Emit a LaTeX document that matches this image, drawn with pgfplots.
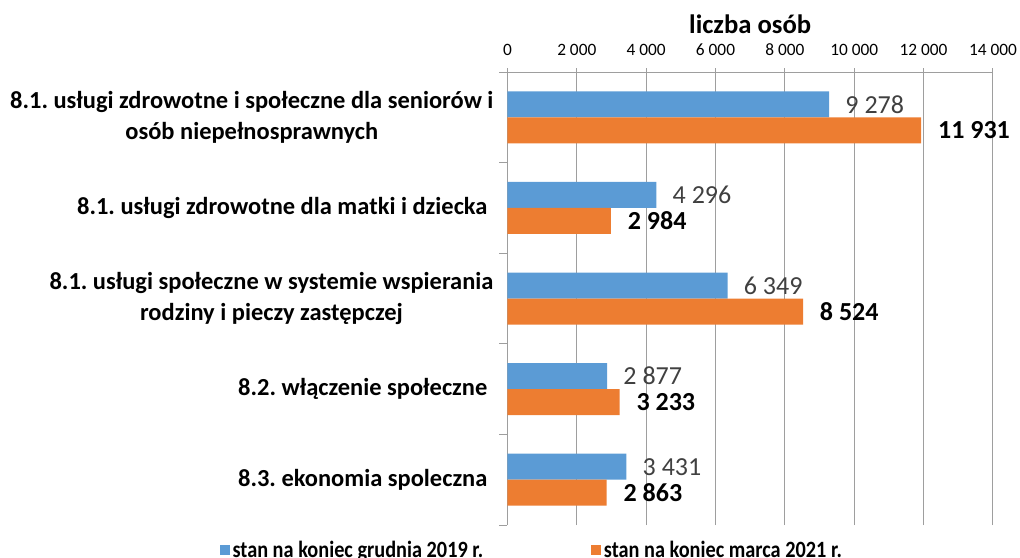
\documentclass[border=0pt]{standalone}
\usepackage{fontspec}
\setmainfont{Carlito}
\newfontfamily\legendfont[FakeStretch=0.87]{Carlito}
\usepackage{pgfplots}
\pgfplotsset{compat=1.18}
\definecolor{cblue}{HTML}{5B9BD5}
\definecolor{corange}{HTML}{ED7D31}
\definecolor{cgrid}{HTML}{9E9E9E}
\definecolor{clabel}{HTML}{404040}
\frenchspacing
\begin{document}
\begin{tikzpicture}
\path[use as bounding box] (0pt,0pt) rectangle (765pt,417.75pt);
\begin{axis}[
  at={(380.6pt,24pt)}, anchor=south west,
  scale only axis, width=364.1pt, height=339.75pt,
  xbar, bar width=0.287,
  xmin=0, xmax=14000, ymin=-0.5, ymax=4.5,
  axis x line=top, axis y line=left,
  axis line style={-, cgrid, line width=0.75pt},
  tick align=outside,
  major tick length=3pt, minor tick length=6pt,
  tick style={cgrid, line width=0.75pt},
  every major y tick/.append style={draw=none},
  xtick={0,2000,...,14000},
  scaled x ticks=false,
  ytick={0,1,2,3,4},
  minor ytick={-0.5,0.5,1.5,2.5,3.5,4.5},
  xmajorgrids, major grid style={cgrid, line width=0.75pt},
  /pgf/number format/.cd, fixed, precision=0, 1000 sep={\ }, assume math mode=true, /pgfplots/.cd,
  xticklabel style={font=\fontsize{13}{14}\selectfont, text=black, yshift=6pt},
  yticklabels={{8.3. ekonomia spoleczna\hspace*{4.5pt}},{8.2. włączenie społeczne\hspace*{4.5pt}},{8.1. usługi społeczne w systemie wspierania\\rodziny i pieczy zastępczej},{8.1. usługi zdrowotne dla matki i dziecka\hspace*{4.5pt}},{8.1. usługi zdrowotne i społeczne dla seniorów i\\osób niepełnosprawnych}},
  yticklabel style={font=\fontsize{18.35}{23.25}\selectfont\bfseries, align=center, text=black, xshift=-4pt},
  title={liczba osób},
  title style={at={(0.5,1)}, anchor=center, yshift=30pt, font=\fontsize{20}{22}\selectfont\bfseries},
  clip=false,
  legend style={draw=none, legend columns=2, at={(-0.593,-0.055)}, anchor=west,
    font=\legendfont\fontsize{17.5}{19}\selectfont\bfseries, inner sep=0pt,
    /tikz/every even column/.append style={column sep=79pt}},
  legend image code/.code={\fill[#1] (0pt,-3.75pt) rectangle (7.5pt,3.75pt);},
]
\addplot[fill=cblue, draw=none, bar shift=0.1435, forget plot,
  nodes near coords, every node near coord/.append style={anchor=west, inner sep=0pt, xshift=12pt, text=clabel, font=\fontsize{19.5}{22}\selectfont}]
  coordinates {(9278,4) (4296,3) (6349,2) (2877,1) (3431,0)};
\addplot[fill=corange, draw=none, bar shift=-0.1435, forget plot,
  nodes near coords, every node near coord/.append style={anchor=west, inner sep=0pt, xshift=12.5pt, text=black, font=\fontsize{19.5}{22}\selectfont\bfseries}]
  coordinates {(11931,4) (2984,3) (8524,2) (3233,1) (2863,0)};
\addlegendimage{fill=cblue, draw=none}
\addlegendentry{stan na koniec grudnia 2019 r.}
\addlegendimage{fill=corange, draw=none}
\addlegendentry{stan na koniec marca 2021 r.}
\end{axis}
\end{tikzpicture}
\end{document}
